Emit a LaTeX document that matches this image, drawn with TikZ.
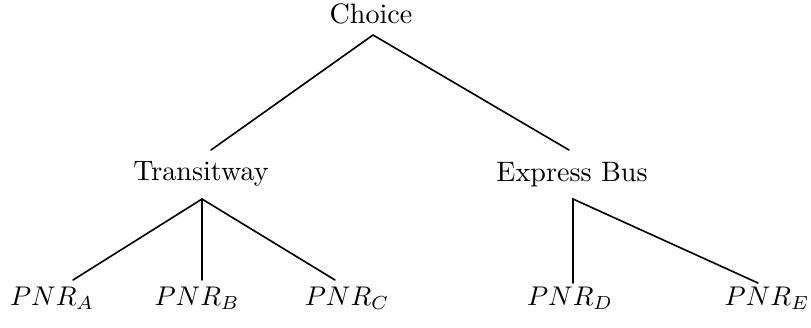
\documentclass[tikz,border=0pt]{standalone}
\begin{document}
\begin{tikzpicture}[x=0.37pt,y=-0.37pt,
  lbl/.style={anchor=base,inner sep=0pt,font=\fontsize{10.4}{12.5}\selectfont},
  edge/.style={line width=0.6pt,line cap=round}]
\useasboundingbox (0,0) rectangle (811,327);
% nodes
\node[lbl] (choice) at (371,23) {Choice};
\node[lbl] (trans) at (201,180) {Transitway};
\node[lbl] (expr) at (572,181) {Express Bus};
\node[lbl] (pa) at (52,305) {$PNR_A$};
\node[lbl] (pb) at (197,305) {$PNR_B$};
\node[lbl] (pc) at (347,305) {$PNR_C$};
\node[lbl] (pd) at (570,305) {$PNR_D$};
\node[lbl] (pe) at (767,305) {$PNR_E$};
% edge end points
\coordinate (choiceB) at (373,35);
\coordinate (transT) at (211,150);
\coordinate (exprT) at (569,150);
\coordinate (transB) at (202,199);
\coordinate (exprB) at (573,199);
\coordinate (paT) at (73,280);
\coordinate (pbT) at (202,280);
\coordinate (pcT) at (335,280);
\coordinate (pdT) at (573,283);
\coordinate (peT) at (758,283);
% edges
\draw[edge] (transT) -- (choiceB) -- (exprT);
\draw[edge] (transB) -- (paT);
\draw[edge] (transB) -- (pbT);
\draw[edge] (transB) -- (pcT);
\draw[edge] (pdT) -- (exprB) -- (peT);
\end{tikzpicture}
\end{document}
